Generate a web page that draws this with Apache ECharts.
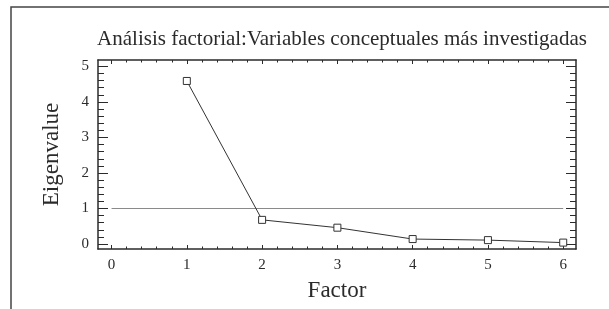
<!DOCTYPE html>
<html>
<head>
<meta charset="utf-8">
<title>Análisis factorial</title>
<script src="https://cdn.jsdelivr.net/npm/echarts@6/dist/echarts.min.js"></script>
<style>
	html, body { margin: 0; padding: 0; background: #fff; }
	#chart { width: 609px; height: 309px; }
</style>
</head>
<body>
<div id="chart"></div>
<script>
// datos
var factors = [ 1, 2, 3, 4, 5, 6 ];
var eigenvalues = [ 4.59, 0.68, 0.46, 0.14, 0.11, 0.04 ];
var xTicks = [ 0, 1, 2, 3, 4, 5, 6 ];
var yTicks = [ 0, 1, 2, 3, 4, 5 ];
var refValue = 1;
var refFrom = 0;
var refTo = 6;

var serif = 'Liberation Serif';
var ink = '#2b2b2b';

// marcas menores cada 0.2
function minorTicks(ticks) {
	var out = [];
	for (var i = 0; i < ticks.length - 1; i++) {
		for (var k = 1; k < 5; k++) {
			out.push(Math.round((ticks[i] + k * 0.2) * 100) / 100);
		}
	}
	return out;
}

function axis(pos, min, max, ticks, len, withLine, withLabel) {
	return {
		type : 'value',
		position : pos,
		min : min,
		max : max,
		axisLine : {
			show : withLine,
			onZero : false,
			lineStyle : { color : ink, width : 1.5 }
		},
		axisTick : {
			show : true,
			inside : true,
			length : len,
			customValues : ticks,
			lineStyle : { color : ink, width : 1 }
		},
		axisLabel : {
			show : withLabel,
			customValues : ticks,
			fontFamily : serif,
			fontSize : 15,
			color : ink,
			margin : 9
		},
		splitLine : { show : false }
	};
}

var xMin = -0.18, xMax = 6.17;
var yMin = -0.14, yMax = 5.18;

var xMain = axis('bottom', xMin, xMax, xTicks, 4, true, true);
xMain.name = 'Factor';
xMain.nameLocation = 'middle';
xMain.nameGap = 30;
xMain.nameTextStyle = { fontFamily : serif, fontSize : 23, color : ink };

var yMain = axis('left', yMin, yMax, yTicks, 10, true, true);
yMain.name = 'Eigenvalue';
yMain.nameLocation = 'middle';
yMain.nameGap = 35;
yMain.nameTextStyle = { fontFamily : serif, fontSize : 23, color : ink };

var myChart = echarts.init(document.getElementById('chart'));

var option = {
	backgroundColor : '#fff',
	animation : false,
	title : {
		text : 'Análisis factorial:Variables conceptuales más investigadas',
		left : 337,
		top : 24,
		textAlign : 'center',
		textStyle : {
			fontFamily : serif,
			fontSize : 21,
			fontWeight : 'normal',
			color : ink
		}
	},
	grid : {
		left : 98,
		right : 33,
		top : 60,
		bottom : 60
	},
	xAxis : [
		xMain,
		axis('bottom', xMin, xMax, minorTicks(xTicks), 2.5, false, false),
		axis('top', xMin, xMax, xTicks, 4, true, false),
		axis('top', xMin, xMax, minorTicks(xTicks), 2.5, false, false)
	],
	yAxis : [
		yMain,
		axis('left', yMin, yMax, minorTicks(yTicks), 6, false, false),
		axis('right', yMin, yMax, yTicks, 10, true, false),
		axis('right', yMin, yMax, minorTicks(yTicks), 6, false, false)
	],
	graphic : [ {
		// marco exterior del panel
		type : 'polyline',
		shape : { points : [ [ 11, 309 ], [ 11, 7 ], [ 609, 7 ] ] },
		style : { stroke : '#444', lineWidth : 1.5, fill : null }
	} ],
	series : [ {
		name : 'umbral',
		type : 'line',
		xAxisIndex : 0,
		yAxisIndex : 0,
		symbol : 'none',
		silent : true,
		lineStyle : { color : '#8a8a8a', width : 1 },
		data : [ [ refFrom, refValue ], [ refTo, refValue ] ]
	}, {
		name : 'Eigenvalue',
		type : 'line',
		xAxisIndex : 0,
		yAxisIndex : 0,
		symbol : 'rect',
		symbolSize : 7,
		lineStyle : { color : '#333', width : 1 },
		itemStyle : { color : '#fff', borderColor : '#333', borderWidth : 1 },
		data : factors.map(function(f, i) {
			return [ f, eigenvalues[i] ];
		})
	} ]
};

myChart.setOption(option);
</script>
</body>
</html>
